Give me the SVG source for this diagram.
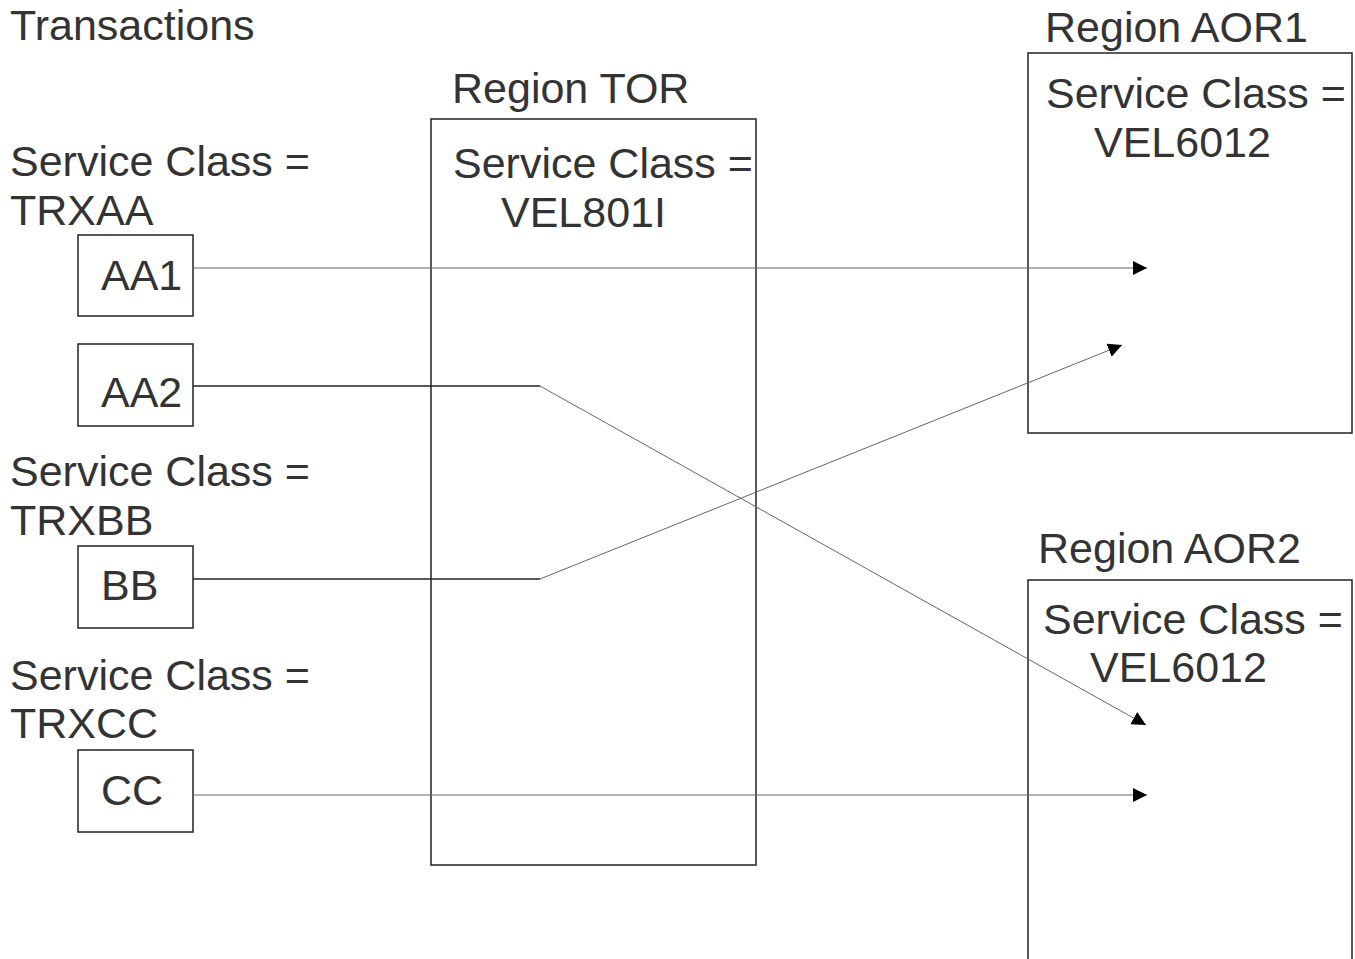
<svg xmlns="http://www.w3.org/2000/svg" width="1355" height="959" viewBox="0 0 1355 959">
<defs>
<style>
text{font-family:"Liberation Sans",Arial,sans-serif;font-size:43px;fill:#333}
.box{fill:#fff;stroke:#222;stroke-width:1.5}
.thin{fill:none;stroke:#666;stroke-width:1}
.thick{fill:none;stroke:#222;stroke-width:1.5}
</style>
<marker id="ah" markerUnits="userSpaceOnUse" markerWidth="16" markerHeight="16" refX="14" refY="7" orient="auto">
<path d="M0,0 L14,7 L0,14 z" fill="#000"/>
</marker>
</defs>
<rect width="1355" height="959" fill="#fff"/>
<g id="labels">
<text x="10" y="40">Transactions</text>
<text x="10" y="176">Service Class =</text>
<text x="10" y="225">TRXAA</text>
<text x="10" y="486">Service Class =</text>
<text x="10" y="535">TRXBB</text>
<text x="10" y="690">Service Class =</text>
<text x="10" y="738">TRXCC</text>
</g>
<g id="tor">
<text x="452" y="103">Region TOR</text>
<rect class="box" x="431" y="119" width="325" height="746"/>
<text x="453" y="178">Service Class =</text>
<text x="501" y="227">VEL801I</text>
</g>
<g id="aor1">
<text x="1045" y="42">Region AOR1</text>
<rect class="box" x="1028" y="53" width="324" height="380"/>
<text x="1046" y="108">Service Class =</text>
<text x="1094" y="157">VEL6012</text>
</g>
<g id="aor2">
<text x="1038" y="563">Region AOR2</text>
<rect class="box" x="1028" y="580" width="324" height="400"/>
<text x="1043" y="634">Service Class =</text>
<text x="1090" y="682">VEL6012</text>
</g>
<g id="aa1">
<rect class="box" x="78" y="235" width="115" height="81"/>
<text x="101" y="290">AA1</text>
</g>
<g id="aa2">
<rect class="box" x="78" y="344" width="115" height="82"/>
<text x="101" y="407">AA2</text>
</g>
<g id="bb">
<rect class="box" x="78" y="546" width="115" height="82"/>
<text x="101" y="600">BB</text>
</g>
<g id="cc">
<rect class="box" x="78" y="750" width="115" height="82"/>
<text x="101" y="805">CC</text>
</g>
<g id="connectors">
<line class="thin" x1="193" y1="268" x2="1147" y2="268" marker-end="url(#ah)"/>
<line class="thick" x1="193" y1="386" x2="540" y2="386"/>
<line class="thin" x1="540" y1="386" x2="1146" y2="725" marker-end="url(#ah)"/>
<line class="thick" x1="193" y1="579" x2="540" y2="579"/>
<line class="thin" x1="540" y1="579" x2="1122" y2="345" marker-end="url(#ah)"/>
<line class="thin" x1="193" y1="795" x2="1147" y2="795" marker-end="url(#ah)"/>
</g>
</svg>
